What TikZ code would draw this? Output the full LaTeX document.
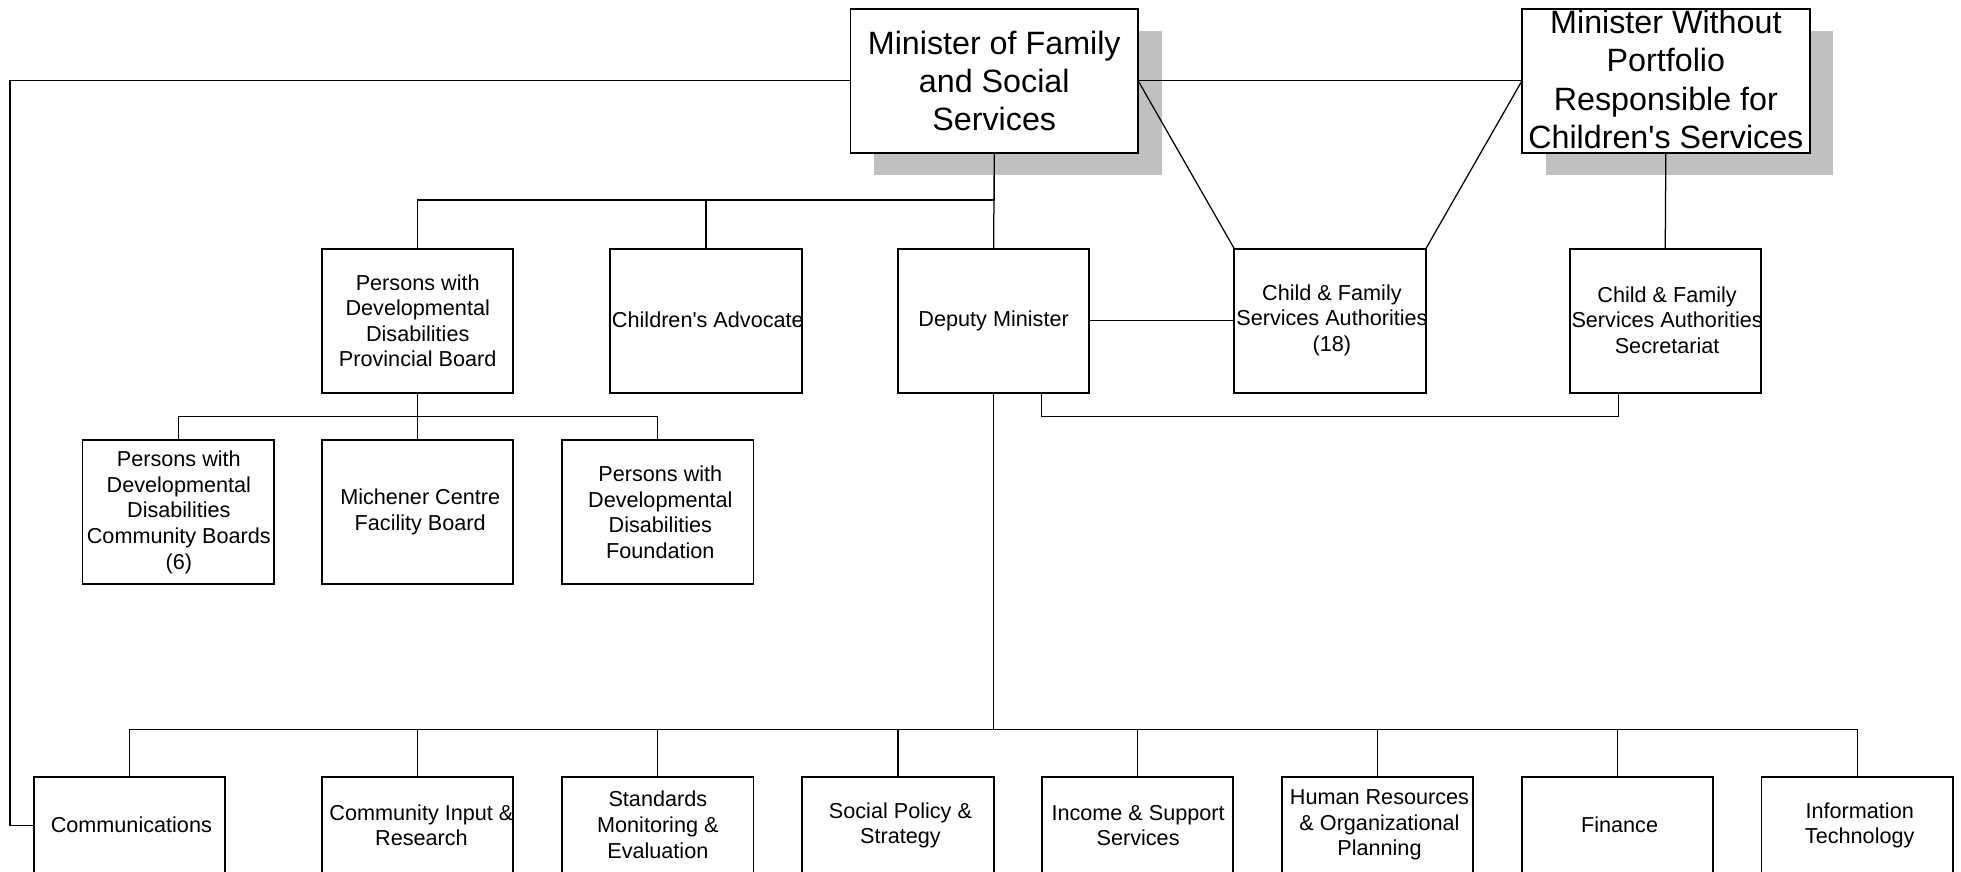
\documentclass[tikz,border=0pt]{standalone}
\usepackage{fontspec}
\setmainfont{Liberation Sans}
\usetikzlibrary{calc,shadows}
\definecolor{shadowgray}{RGB}{192,192,192}
\begin{document}
\begin{tikzpicture}[x=0.5pt,y=-0.5pt,
  box/.style={draw, line width=0.75pt, fill=white, minimum width=76.5pt, minimum height=57.5pt, inner sep=0pt, outer sep=0pt},
  lowbox/.style={box, minimum height=39pt},
  bigbox/.style={box, minimum width=115pt, drop shadow={shadow xshift=9.5pt, shadow yshift=-9pt, fill=shadowgray, opacity=1, draw=none}},
  txt/.style={align=center, inner sep=0pt, font=\fontsize{8.65}{10.25}\selectfont},
  bigtxt/.style={align=center, inner sep=0pt, font=\fontsize{12.9}{15.25}\selectfont},
  conn/.style={line width=0.5pt}]
\useasboundingbox (0,0) rectangle (1568,697);
\clip (0,0) rectangle (1568,697);

% top level
\node[bigbox] (mfs) at (795,64.5) {};
\node[bigtxt] (mfst) at (mfs) {Minister of Family\\and Social\\Services};
\node[bigbox] (mwp) at (1332,64.5) {};
\node[bigtxt] (mwpt) at (1332,63.5) {Minister Without\\Portfolio\\Responsible for\\Children\textquotesingle s Services};

% second level
\node[box] (pb) at (334,256.5) {};
\node[txt] (pbt) at (pb) {Persons with\\Developmental\\Disabilities\\Provincial Board};
\node[box] (ca) at (564.5,256.5) {};
\node[txt] (cat) at (566,256) {Children\textquotesingle s Advocate};
\node[box] (dm) at (794.5,256.5) {};
\node[txt] (dmt) at (dm) {Deputy Minister};
\node[box] (cfsa) at (1063.5,256.5) {};
\node[txt] (cfsat) at (1065,256) {Child \& Family\\Services Authorities\\(18)};
\node[box] (sec) at (1331.5,256.5) {};
\node[txt] (sect) at (1333,256) {Child \& Family\\Services Authorities\\Secretariat};

% third level
\node[box] (cb) at (142.5,409.5) {};
\node[txt] (cbt) at (143,409.5) {Persons with\\Developmental\\Disabilities\\Community Boards\\(6)};
\node[box] (mc) at (334,409.5) {};
\node[txt] (mct) at (336,409.5) {Michener Centre\\Facility Board};
\node[box] (fd) at (526,409.5) {};
\node[txt] (fdt) at (528,409.5) {Persons with\\Developmental\\Disabilities\\Foundation};

% bottom level
\node[lowbox] (comm) at (103.5,660) {};
\node[txt] (commt) at (105,659.5) {Communications};
\node[lowbox] (cir) at (334,660) {};
\node[txt] (cirt) at (337,660) {Community Input \&\\Research};
\node[lowbox] (sme) at (526,660) {};
\node[txt] (smet) at (526,659.5) {Standards\\Monitoring \&\\Evaluation};
\node[lowbox] (sps) at (718,660) {};
\node[txt] (spst) at (720,660) {Social Policy \&\\Strategy};
\node[lowbox] (iss) at (909.5,660) {};
\node[txt] (isst) at (910,660) {Income \& Support\\Services};
\node[lowbox] (hr) at (1101.5,660) {};
\node[txt] (hrt) at (1103,659.5) {Human Resources\\\& Organizational\\Planning};
\node[lowbox] (fin) at (1293.5,660) {};
\node[txt] (fint) at (1295,659.5) {Finance};
\node[lowbox] (it) at (1485,660) {};
\node[txt] (itt) at (1487,660) {Information\\Technology};

% connectors
\draw[conn] (mfs.south) -- (dm.north);
\draw[conn] (pb.north) -- ++(0,-39) -| (mfs.south);
\draw[conn] (ca.north) -- ++(0,-39);
\draw[conn] (mfs.east) -- (mwp.west);
\draw[conn] (mfs.west) -| (8,660) -- (comm.west);
\draw[conn] (mfs.east) -- (cfsa.north west);
\draw[conn] (mwp.west) -- (cfsa.north east);
\draw[conn] (mwp.south) -- (sec.north);
\draw[conn] (dm.east) -- (cfsa.west);
\draw[conn] ($(dm.south west)!0.75!(dm.south east)$) -- ++(0,19) -| ($(sec.south west)!0.255!(sec.south east)$);
\draw[conn] (pb.south) -- (mc.north);
\draw[conn] (cb.north) -- ++(0,-19) -| (fd.north);
\draw[conn] (dm.south) -- (dm.south |- 0,583);
\draw[conn] (comm.north) -- ++(0,-38) -| (it.north);
\foreach \n in {cir,sme,sps,iss,hr,fin}
  \draw[conn] (\n.north) -- ++(0,-38);
\end{tikzpicture}
\end{document}
